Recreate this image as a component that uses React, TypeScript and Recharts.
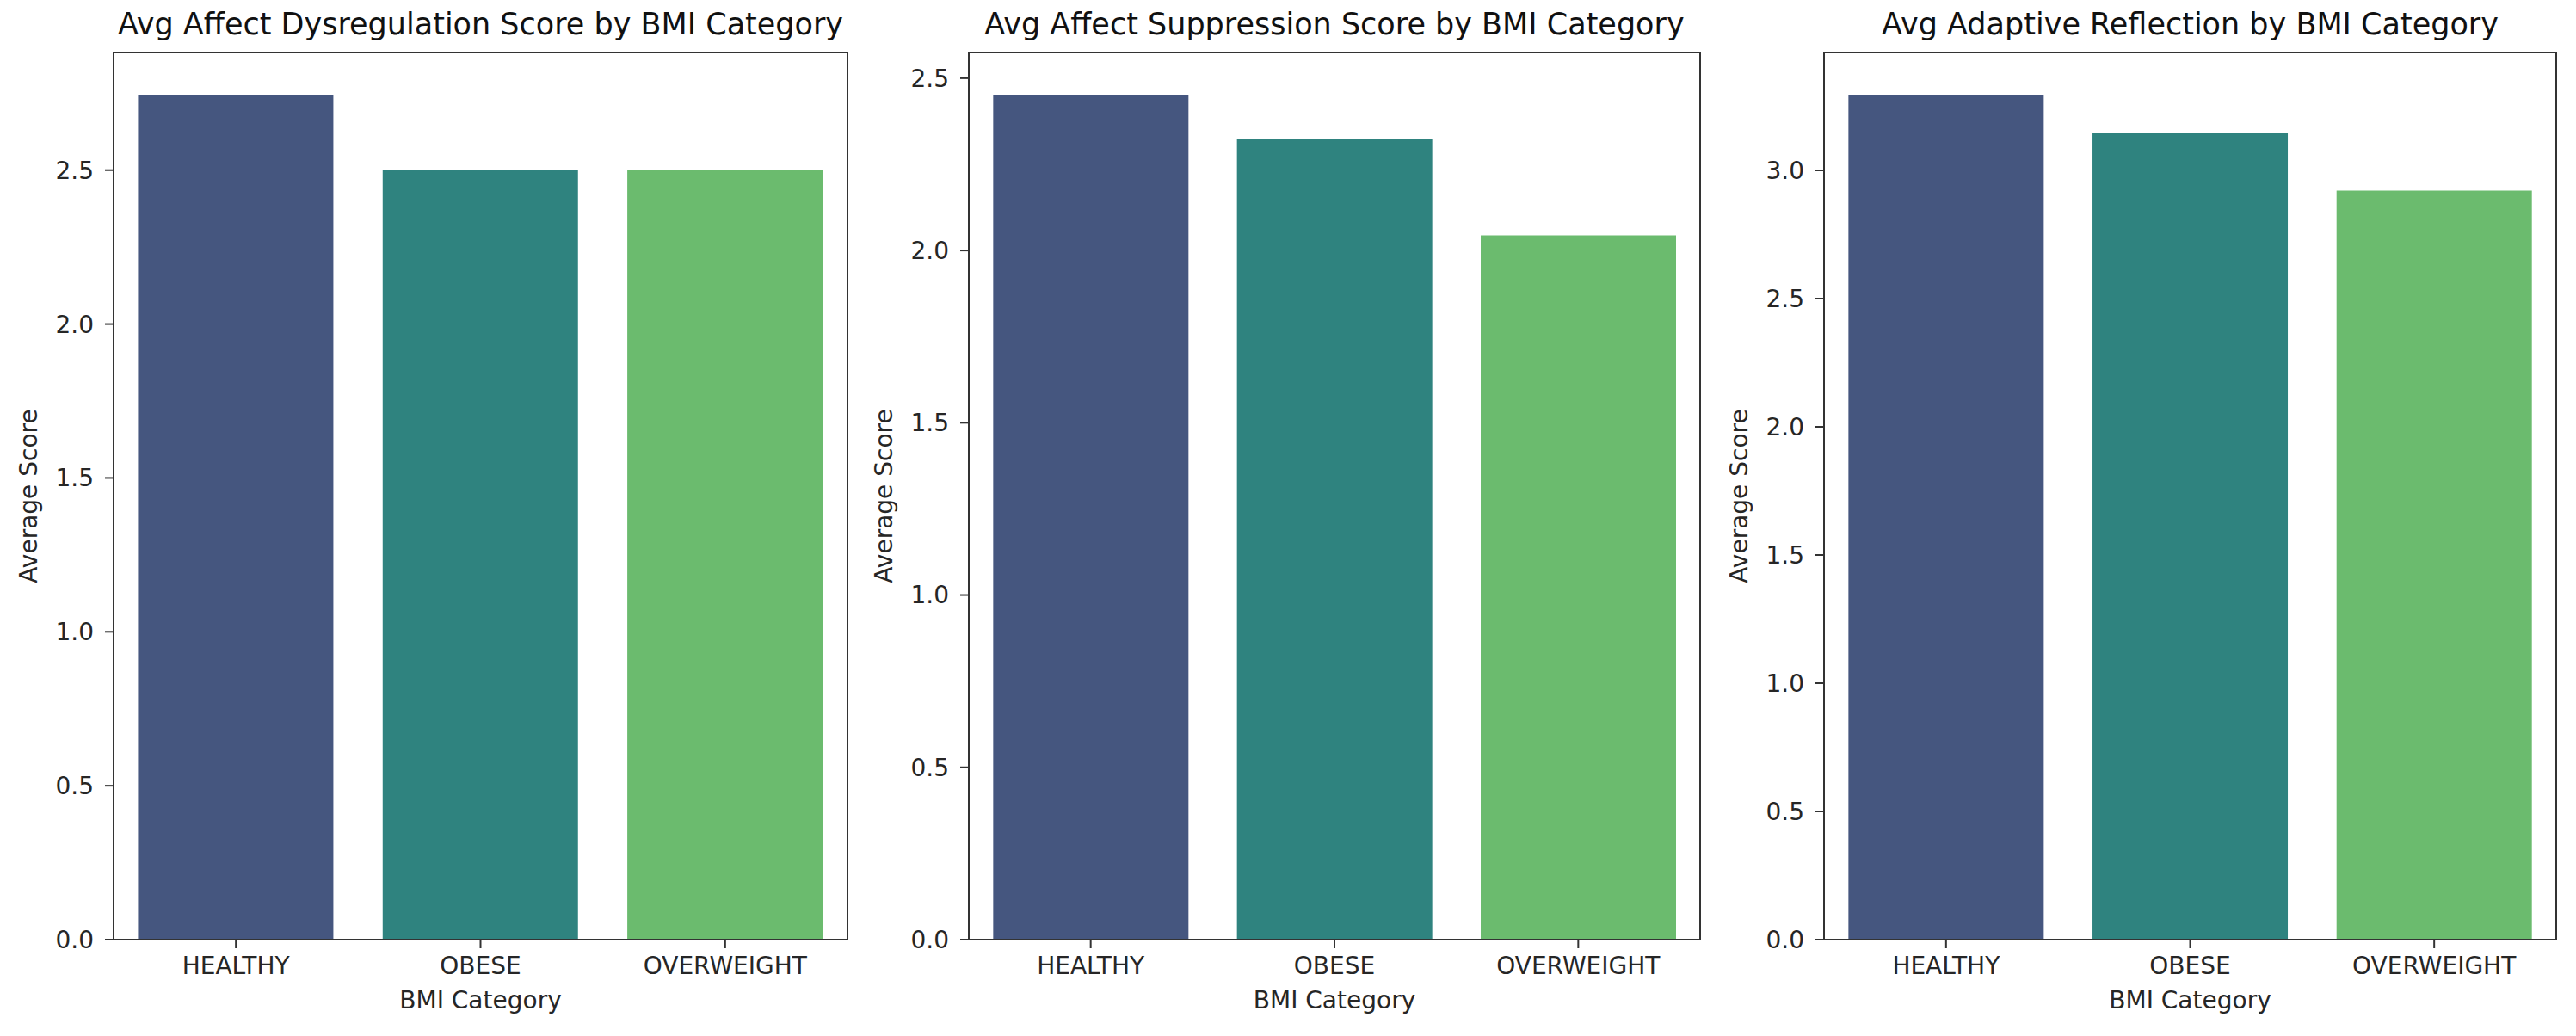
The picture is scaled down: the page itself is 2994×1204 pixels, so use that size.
import { BarChart, Bar, XAxis, YAxis, Cell } from 'recharts';

const categories = ['HEALTHY', 'OBESE', 'OVERWEIGHT'];
const dysregulationScores = [2.745, 2.5, 2.5];
const suppressionScores = [2.452, 2.323, 2.044];
const reflectionScores = [3.295, 3.144, 2.921];
const barColors = ['#45567f', '#2f837f', '#6bbb6e'];
const ticksDysregulation = [0, 0.5, 1, 1.5, 2, 2.5];
const ticksSuppression = [0, 0.5, 1, 1.5, 2, 2.5];
const ticksReflection = [0, 0.5, 1, 1.5, 2, 2.5, 3];

const FONT = "'DejaVu Sans', sans-serif";
const AXIS = '#333';
const TEXT = '#262626';

type PanelProps = {
  title: string;
  values: number[];
  ticks: number[];
  left: number;
  plotWidth: number;
};

const Panel = ({ title, values, ticks, left, plotWidth }: PanelProps) => {
  const data = categories.map((name, i) => ({ name, score: values[i] }));
  const yMax = Math.max(...values) * 1.05;
  const tickStyle = { fontSize: 28, fill: TEXT, fontFamily: FONT };

  return (
    <div style={{ position: 'absolute', left, top: 0 }}>
      <BarChart
        width={plotWidth + 133}
        height={1204}
        data={data}
        margin={{ top: 60, right: 0, bottom: 0, left: 0 }}
      >
        <XAxis
          dataKey="name"
          height={112}
          tick={tickStyle}
          tickSize={10}
          tickMargin={10}
          axisLine={{ stroke: AXIS, strokeWidth: 2 }}
          tickLine={{ stroke: AXIS, strokeWidth: 2 }}
          interval={0}
          label={{
            value: 'BMI Category',
            position: 'insideBottom',
            offset: 32,
            style: { fontSize: 28, fill: TEXT, fontFamily: FONT },
          }}
        />
        {/* top spine + title */}
        <XAxis
          xAxisId="top"
          dataKey="name"
          orientation="top"
          height={1}
          tick={false}
          tickLine={false}
          axisLine={{ stroke: AXIS, strokeWidth: 2 }}
          label={{
            value: title,
            position: 'top',
            offset: 20,
            style: { fontSize: 35, fill: '#111', fontFamily: FONT },
          }}
        />
        <YAxis
          width={132}
          type="number"
          domain={[0, yMax]}
          ticks={ticks}
          interval={0}
          tickFormatter={(v: number) => v.toFixed(1)}
          tick={tickStyle}
          tickSize={10}
          tickMargin={13}
          axisLine={{ stroke: AXIS, strokeWidth: 2 }}
          tickLine={{ stroke: AXIS, strokeWidth: 2 }}
          label={{
            value: 'Average Score',
            angle: -90,
            position: 'insideLeft',
            offset: 33,
            style: { fontSize: 28, fill: TEXT, fontFamily: FONT, textAnchor: 'middle' },
          }}
        />
        {/* right spine */}
        <YAxis
          yAxisId="right"
          orientation="right"
          width={1}
          type="number"
          domain={[0, yMax]}
          tick={false}
          tickLine={false}
          axisLine={{ stroke: AXIS, strokeWidth: 2 }}
        />
        <Bar dataKey="score" isAnimationActive={false}>
          {data.map((d, i) => (
            <Cell key={d.name} fill={barColors[i]} />
          ))}
        </Bar>
      </BarChart>
    </div>
  );
};

export default function App() {
  return (
    <div
      style={{
        position: 'absolute',
        left: 0,
        top: 0,
        width: 2994,
        height: 1204,
        background: '#fff',
        fontFamily: FONT,
      }}
    >
      <Panel
        title="Avg Affect Dysregulation Score by BMI Category"
        values={dysregulationScores}
        ticks={ticksDysregulation}
        left={0}
        plotWidth={853}
      />
      <Panel
        title="Avg Affect Suppression Score by BMI Category"
        values={suppressionScores}
        ticks={ticksSuppression}
        left={994}
        plotWidth={850}
      />
      <Panel
        title="Avg Adaptive Reflection by BMI Category"
        values={reflectionScores}
        ticks={ticksReflection}
        left={1988}
        plotWidth={851}
      />
    </div>
  );
}
